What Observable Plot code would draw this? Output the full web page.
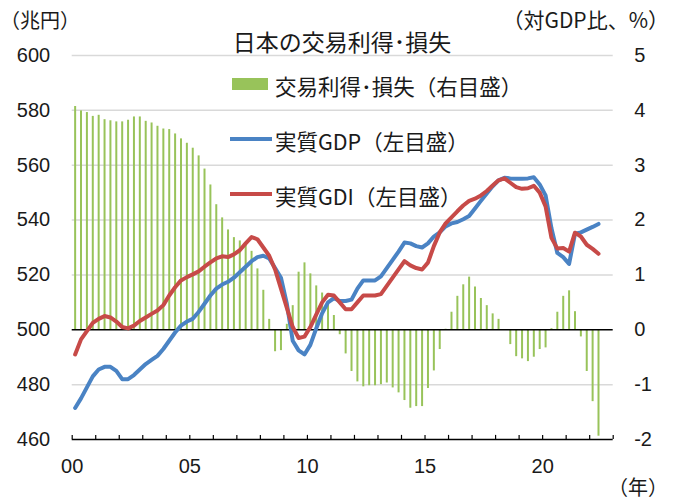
<!DOCTYPE html>
<html><head><meta charset="utf-8">
<script src="https://cdn.jsdelivr.net/npm/d3@7"></script>
<script src="https://cdn.jsdelivr.net/npm/@observablehq/plot@0.6"></script>
<style>body{margin:0;background:#fff;} #chart{width:673px;height:502px;}</style>
</head><body><div id="chart"></div>
<script>
// Quarterly data, 2000Q1 - 2022Q2
const startYear = 2000;
const realGDP = [471.5,475,479,483,485.5,486.5,486.5,485,482,482,483.5,485.5,487.5,489,490.5,493,
  496,499,501.5,503,504,506.5,509.5,512.5,515,516.5,517.5,519,521,523,525,526.5,
  527,526,522.5,519,509.5,496,492.5,491,494.5,500.5,506,510,511.5,510.5,510.5,511,
  515,518,518,518,519.5,522.5,525.5,528.5,531.8,531.5,530.5,530,531.5,534,535.5,537.7,
  538.8,539.3,540.3,541.5,544.2,547,549.7,552.3,554.5,555.4,555.2,555.1,555.1,555.2,555.6,553,
  549,537,528,526.5,524,535,535.5,536.5,537.5,538.6];
const realGDI = [491,496.5,499.5,502.5,504,505,504.5,503,501,500.5,501.5,503.2,504.5,505.8,507,509,
  512.5,515.5,518,519.2,520.2,521.3,523,524.6,526,526.8,526.5,527.5,529,531.5,533.8,533,
  530,527,522,515,508,501,497,497.5,501,505.5,510,512.8,512.5,510,507.5,507.5,
  510,512.5,512.5,512.5,513,516,519,522,525,523.5,522.5,522,524.5,530.5,535.5,538.8,
  541,543.2,545.3,547,547.8,549,550.6,552.6,554.5,555.2,553.6,552,551.4,551.6,552.5,550,
  545,533.5,529.6,529.8,528.5,535.4,534,531,529.5,527.7];
const tradeGainLoss = [4.07,3.99,3.96,3.89,3.91,3.83,3.81,3.79,3.79,3.82,3.88,3.88,3.80,3.77,3.71,3.66,
  3.65,3.57,3.48,3.40,3.31,3.17,2.93,2.64,2.28,2.04,1.82,1.68,1.62,1.54,1.43,1.11,
  0.72,0.19,-0.40,-0.38,0.10,0.44,1.05,1.22,1.02,0.80,0.67,0.49,0.26,-0.09,-0.44,-0.76,
  -0.95,-1.04,-1.02,-1.02,-1.00,-0.97,-1.06,-1.15,-1.29,-1.43,-1.40,-1.40,-1.07,-0.75,-0.36,0.01,
  0.32,0.61,0.82,0.96,0.78,0.57,0.44,0.29,0.19,0.0,-0.27,-0.49,-0.53,-0.58,-0.50,-0.36,
  -0.33,0.02,0.32,0.61,0.71,0.33,-0.13,-0.76,-1.31,-1.94];
const leftTicks = [460,480,500,520,540,560,580,600];
const rightTicks = [-2,-1,0,1,2,3,4,5];
const yearTicks = d3.range(2000, 2024);
const labelYears = [2000,2005,2010,2015,2020];
const yearLabels = ["00","05","10","15","20"];
const title = "日本の交易利得･損失";
const leftUnit = "（兆円）";
const rightUnit = "（対GDP比、%）";
const xUnit = "（年）";
const legendLabels = ["交易利得･損失（右目盛）","実質GDP（左目盛）","実質GDI（左目盛）"];

const GREEN = "#98c35a", BLUE = "#4a83c4", RED = "#c74a48";
const toLeft = r => 500 + 20 * r;          // right axis (%) -> left axis (兆円)
const rows = realGDP.map((g, i) => ({
  t: startYear + (i + 0.5) / 4, gdp: g, gdi: realGDI[i], bar: toLeft(tradeGainLoss[i])
}));

const plot = Plot.plot({
  width: 673, height: 502,
  marginLeft: 71.7, marginRight: 60.3, marginTop: 55, marginBottom: 63,
  style: {fontFamily: "'Liberation Sans', 'Noto Sans CJK JP', sans-serif", fontSize: "20px", color: "#1a1a1a", background: "#fff"},
  x: {domain: [2000, 2023], label: null},
  y: {domain: [460, 600], label: null},
  marks: [
    Plot.ruleY(leftTicks.filter(v => v !== 500 && v !== 460), {stroke: "#d9d9d9", strokeWidth: 1.5}),
    Plot.ruleX(rows, {x: "t", y1: 500, y2: "bar", stroke: GREEN, strokeWidth: 2}),
    Plot.ruleY([500], {stroke: "#000", strokeWidth: 1.5}),
    Plot.ruleY([460], {stroke: "#000", strokeWidth: 1.5}),
    Plot.ruleX(yearTicks, {x: d => d, y1: 460, y2: 461.5, stroke: "#000", strokeWidth: 1.2}),
    Plot.line(rows, {x: "t", y: "gdp", stroke: BLUE, strokeWidth: 4}),
    Plot.line(rows, {x: "t", y: "gdi", stroke: RED, strokeWidth: 4}),
    Plot.axisY(leftTicks, {anchor: "left", tickSize: 0, tickPadding: 22, label: null, tickFormat: d => String(d)}),
    Plot.axisY(rightTicks.map(toLeft), {anchor: "right", tickSize: 0, tickPadding: 21, label: null, tickFormat: d => String((d - 500) / 20)}),
    Plot.axisX(labelYears, {anchor: "bottom", tickSize: 0, tickPadding: 19, label: null, tickFormat: d => yearLabels[labelYears.indexOf(d)]})
  ]
});
document.getElementById("chart").appendChild(plot);

// Title, units and legend drawn into the same SVG
const svg = d3.select(plot);
const txt = (x, y, s, anchor, size) => svg.append("text")
  .attr("x", x).attr("y", y).attr("text-anchor", anchor).attr("dominant-baseline", "central")
  .attr("font-size", size).attr("fill", "#1a1a1a")
  .attr("font-family", "'Noto Sans CJK JP', 'Liberation Sans', sans-serif").text(s);
txt(0, 19, leftUnit, "start", 20);
txt(669, 19, rightUnit, "end", 21);
txt(342, 41, title, "middle", 23);
txt(668, 486, xUnit, "end", 20);

svg.append("rect").attr("x", 232).attr("y", 78).attr("width", 36).attr("height", 12).attr("fill", GREEN);
svg.append("line").attr("x1", 230).attr("x2", 272).attr("y1", 139).attr("y2", 139).attr("stroke", BLUE).attr("stroke-width", 4);
svg.append("line").attr("x1", 230).attr("x2", 272).attr("y1", 194).attr("y2", 194).attr("stroke", RED).attr("stroke-width", 4);
[85, 140, 195].forEach((y, k) => txt(275, y, legendLabels[k], "start", 21.5));
</script>
</body></html>
